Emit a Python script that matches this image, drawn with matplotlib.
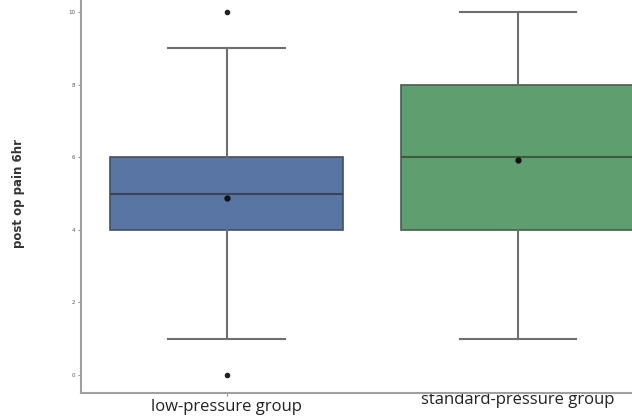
import matplotlib
matplotlib.use("Agg")
import matplotlib.pyplot as plt
from matplotlib.transforms import ScaledTranslation

groups = ["low-pressure group", "standard-pressure group"]
q1 = [4, 4]
medians = [5, 6]
q3 = [6, 8]
whisk_lo = [1, 1]
whisk_hi = [9, 10]
means = [4.88, 5.92]
fliers = [[0, 10], []]
colors = ["#5975a4", "#5f9e6e"]
yticks = [0, 2, 4, 6, 8, 10]
ylabel = "post op pain 6hr"

fig = plt.figure(figsize=(6.32, 4.2), dpi=100)
W, H = 632, 420
left_px, right_px = 81, 663.5
bot_px, top_px = 393, -6
ax = fig.add_axes([left_px / W, (H - bot_px) / H, (right_px - left_px) / W, (bot_px - top_px) / H])

stats = []
for i in range(len(groups)):
    stats.append(dict(med=medians[i], q1=q1[i], q3=q3[i], whislo=whisk_lo[i],
                      whishi=whisk_hi[i], mean=means[i], fliers=fliers[i], label=groups[i]))

bp = ax.bxp(stats, positions=[0, 1], widths=0.8, patch_artist=True, showmeans=True,
            boxprops=dict(linewidth=1.2, edgecolor="#3f4a5c"),
            whiskerprops=dict(color="#6e6e6e", linewidth=1.5),
            capprops=dict(color="#6e6e6e", linewidth=1.5),
            medianprops=dict(color="#3a4656", linewidth=1.5),
            meanprops=dict(marker="o", markerfacecolor="#111111", markeredgecolor="#111111", markersize=3.5),
            flierprops=dict(marker="o", markerfacecolor="#222222", markeredgecolor="#222222", markersize=3))
for patch, c in zip(bp["boxes"], colors):
    patch.set_facecolor(c)
    patch.set_edgecolor("#44505f")
bp["medians"][1].set_color("#3b5a40")
bp["boxes"][1].set_edgecolor("#44604a")

ax.set_xlim(-0.5, 1.5)
ax.set_ylim(-0.5, 10.5)
ax.set_yticks(yticks)
ax.set_yticklabels([str(t) for t in yticks], fontsize=4, color="#555555")
ax.set_xticks([0, 1])
ax.set_xticklabels(groups, fontsize=12, family="Open Sans", color="#222222")
ax.tick_params(axis="y", length=2, width=0.8, color="#999999", pad=2)
ax.tick_params(axis="x", length=2, width=0.8, color="#999999", pad=2)
for s in ["top", "right"]:
    ax.spines[s].set_visible(False)
for s in ["left", "bottom"]:
    ax.spines[s].set_color("#a0a0a0")
    ax.spines[s].set_linewidth(1.5)

lbls = ax.get_xticklabels()
lbls[1].set_transform(lbls[1].get_transform() + ScaledTranslation(0, 7 / 100, fig.dpi_scale_trans))

ax.set_ylabel(ylabel, fontsize=8.5, fontweight="bold", color="#333333")
ax.yaxis.set_label_coords((25 - left_px) / (right_px - left_px), 0.5)

fig.savefig("out.png", dpi=100)
